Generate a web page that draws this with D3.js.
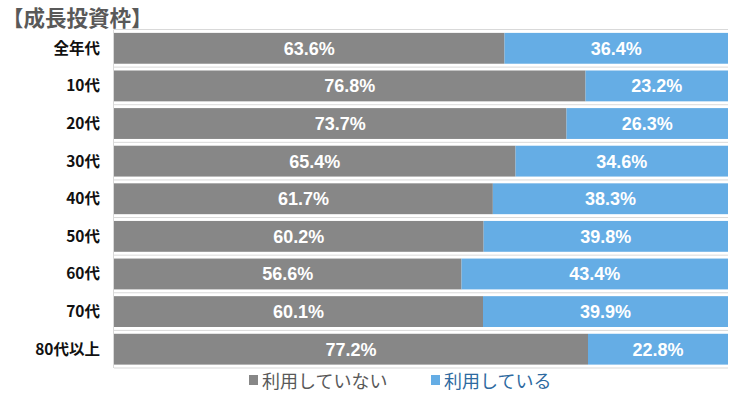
<!DOCTYPE html>
<html>
<head>
<meta charset="utf-8">
<script src="https://cdn.jsdelivr.net/npm/d3@7"></script>
<style>
  body { margin: 0; background: #fff; }
  svg { display: block; }
  .cat { font-family: "Noto Sans CJK JP", sans-serif; font-weight: 700; font-size: 15.5px; fill: #111; }
  .val { font-family: "Liberation Sans", Arial, sans-serif; font-weight: 700; font-size: 18px; fill: #fff; }
  .title { font-family: "Noto Sans CJK JP", sans-serif; font-weight: 700; font-size: 21.5px; fill: #595959; }
  .leg { font-family: "Noto Sans CJK JP", sans-serif; font-size: 18px; }
</style>
</head>
<body>
<svg width="738" height="393"></svg>
<script>
// data
const categories = ["全年代", "10代", "20代", "30代", "40代", "50代", "60代", "70代", "80代以上"]
const notUsing = [63.6, 76.8, 73.7, 65.4, 61.7, 60.2, 56.6, 60.1, 77.2]
const using = [36.4, 23.2, 26.3, 34.6, 38.3, 39.8, 43.4, 39.9, 22.8]
const seriesNames = ["利用していない", "利用している"]

const colors = ["#878787", "#65ade5"]
const textColors = ["#595959", "#2e6aa0"]

const margin = { left: 114, right: 10, top: 29.5, bottom: 25 }
const svg = d3.select("svg")
const w = 738 - margin.left - margin.right
const h = 393 - margin.top - margin.bottom

const table = categories.map((c, i) => ({ cat: c, a: notUsing[i], b: using[i] }))
const stacked = d3.stack().keys(["a", "b"])(table)

const x = d3.scaleLinear().domain([0, 100]).range([margin.left, margin.left + w])
const y = d3.scaleBand().domain(categories).range([margin.top, margin.top + h]).paddingInner(0.18).paddingOuter(0.09)

// Title
svg.append("text")
  .attr("class", "title")
  .attr("x", 2)
  .attr("y", 26)
  .text("【成長投資枠】")

// category gridlines
const step = y.step()
const bounds = d3.range(categories.length + 1).map(i => margin.top + i * step)
svg.append("g")
  .selectAll("line")
  .data(bounds)
  .join("line")
  .attr("x1", margin.left)
  .attr("x2", margin.left + w)
  .attr("y1", d => d)
  .attr("y2", d => d)
  .attr("stroke", "#d9d9d9")
  .attr("stroke-width", 1)

svg.append("line")
  .attr("x1", margin.left - 0.5)
  .attr("x2", margin.left - 0.5)
  .attr("y1", margin.top)
  .attr("y2", margin.top + h)
  .attr("stroke", "#d9d9d9")

// bars
const layers = svg.selectAll("g.layer")
  .data(stacked)
  .join("g")
  .attr("class", "layer")
  .attr("fill", (d, i) => colors[i])

layers.selectAll("rect")
  .data(d => d)
  .join("rect")
  .attr("x", d => x(d[0]))
  .attr("y", d => y(d.data.cat))
  .attr("width", d => x(d[1]) - x(d[0]))
  .attr("height", y.bandwidth())

layers.selectAll("text")
  .data(d => d)
  .join("text")
  .attr("class", "val")
  .attr("text-anchor", "middle")
  .attr("x", d => (x(d[0]) + x(d[1])) / 2)
  .attr("y", d => y(d.data.cat) + y.bandwidth() / 2 + 6.5)
  .text(d => (d[1] - d[0]).toFixed(1) + "%")

// y axis labels
svg.append("g")
  .selectAll("text")
  .data(categories)
  .join("text")
  .attr("class", "cat")
  .attr("text-anchor", "end")
  .attr("x", 100)
  .attr("y", d => y(d) + y.bandwidth() / 2 + 5.5)
  .text(d => d)

// legend
const legX = [249, 431]
const leg = svg.append("g")
seriesNames.forEach((name, i) => {
  leg.append("rect")
    .attr("x", legX[i])
    .attr("y", 375)
    .attr("width", 9)
    .attr("height", 10)
    .attr("fill", colors[i])
  leg.append("text")
    .attr("class", "leg")
    .attr("x", legX[i] + 13)
    .attr("y", 388)
    .attr("fill", textColors[i])
    .text(name)
})
</script>
</body>
</html>
